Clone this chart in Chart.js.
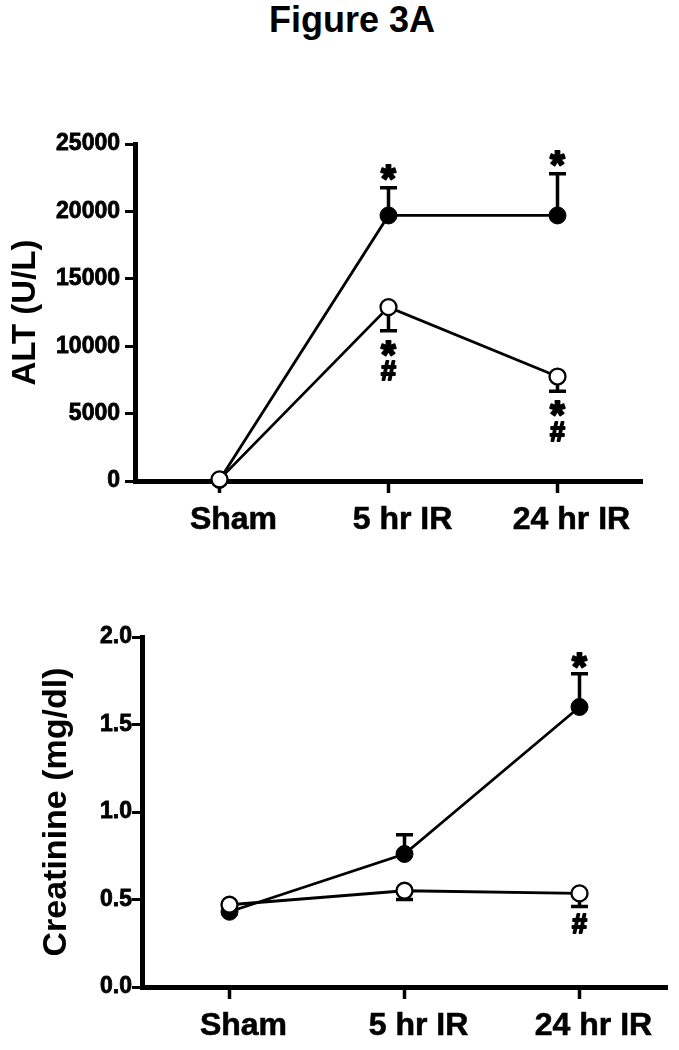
<!DOCTYPE html>
<html><head><meta charset="utf-8">
<script src="https://cdn.jsdelivr.net/npm/chart.js@4/dist/chart.umd.min.js"></script>
<style>
html,body{margin:0;padding:0;background:#fff;width:679px;height:1050px;overflow:hidden;position:relative;}
#title{position:absolute;left:0;width:704px;top:2px;text-align:center;font:bold 36px "Liberation Sans",Arial,sans-serif;line-height:36px;color:#000;}
.wrap{position:absolute;left:0;width:679px;}
canvas{display:block;}
</style></head><body>
<div id="title">Figure 3A</div>
<div class="wrap" style="top:100px;height:450px"><canvas id="c1" width="679" height="450"></canvas></div>
<div class="wrap" style="top:580px;height:470px"><canvas id="c2" width="679" height="470"></canvas></div>
<script>
const FONT = '"Liberation Sans", Arial, sans-serif';

const categories = ['Sham', '5 hr IR', '24 hr IR'];

const altFilled = [80, 19700, 19700];
const altFilledErr = [0, 2050, 3100];
const altOpen = [120, 12900, 7750];
const altOpenErr = [0, 1750, 1100];
const altFilledMarks = [[], ['*'], ['*']];
const altOpenMarks = [[], ['*', '#'], ['*', '#']];
const altTicks = [0, 5000, 10000, 15000, 20000, 25000];

const creatFilled = [0.43, 0.76, 1.60];
const creatFilledErr = [0, 0.11, 0.19];
const creatOpen = [0.47, 0.55, 0.535];
const creatOpenErr = [0, 0.05, 0.075];
const creatFilledMarks = [[], [], ['*']];
const creatOpenMarks = [[], [], ['#']];
const creatTicks = [0, 0.5, 1.0, 1.5, 2.0];

const errPlugin = {
  id: 'errbars',
  beforeDatasetsDraw(chart) {
    const ctx = chart.ctx, ys = chart.scales.y;
    chart.data.datasets.forEach((ds, di) => {
      const meta = chart.getDatasetMeta(di);
      ds.data.forEach((v, i) => {
        const e = ds.err[i];
        if (!e) return;
        const px = meta.data[i].x;
        const y0 = ys.getPixelForValue(v);
        const y1 = ys.getPixelForValue(v + ds.errDir * e);
        ctx.save();
        ctx.strokeStyle = '#000';
        ctx.lineWidth = 3.5;
        ctx.beginPath();
        ctx.moveTo(px, y0); ctx.lineTo(px, y1);
        ctx.moveTo(px - 8.5, y1); ctx.lineTo(px + 8.5, y1);
        ctx.stroke();
        ctx.restore();
      });
    });
  }
};

const markPlugin = {
  id: 'marks',
  afterDatasetsDraw(chart, args, opts) {
    const ctx = chart.ctx, ys = chart.scales.y;
    chart.data.datasets.forEach((ds, di) => {
      const meta = chart.getDatasetMeta(di);
      ds.data.forEach((v, i) => {
        const list = ds.marks[i];
        if (!list || !list.length) return;
        const px = meta.data[i].x;
        const yEnd = ys.getPixelForValue(v + ds.errDir * (ds.err[i] || 0));
        list.forEach((m, k) => {
          const fs = m === '*' ? 38 : 27;
          ctx.save();
          ctx.font = 'bold ' + fs + 'px ' + FONT;
          ctx.fillStyle = '#000';
          ctx.strokeStyle = '#000';
          ctx.lineWidth = m === '*' ? 2 : 1.8;
          ctx.lineJoin = 'round';
          ctx.textAlign = 'center';
          ctx.textBaseline = 'alphabetic';
          const mt = ctx.measureText(m);
          const asc = mt.actualBoundingBoxAscent, desc = mt.actualBoundingBoxDescent;
          const gap = ds.errDir > 0 ? opts.gapAbove : opts.gapBelow;
          const cy = yEnd - ds.errDir * (gap + k * opts.step);
          const ty = cy + (asc - desc) / 2;
          ctx.fillText(m, px, ty);
          ctx.strokeText(m, px, ty);
          ctx.restore();
        });
      });
    });
  }
};

function makeChart(id, o) {
  return new Chart(document.getElementById(id), {
    type: 'line',
    data: {
      labels: categories,
      datasets: [
        { label: 'open', data: o.open, err: o.openErr, errDir: -1, marks: o.openMarks,
          borderColor: '#000', borderWidth: 2.8, pointRadius: 8, pointBackgroundColor: '#fff',
          pointBorderColor: '#000', pointBorderWidth: 2.3, tension: 0, clip: false },
        { label: 'filled', data: o.filled, err: o.filledErr, errDir: 1, marks: o.filledMarks,
          borderColor: '#000', borderWidth: 2.8, pointRadius: 8.5, pointBackgroundColor: '#000',
          pointBorderColor: '#000', pointBorderWidth: 1, tension: 0, clip: false }
      ]
    },
    options: {
      responsive: false, animation: false, devicePixelRatio: 1, events: [],
      layout: { padding: { top: o.padTop, right: o.padRight, left: 0, bottom: 0 } },
      plugins: { legend: { display: false }, tooltip: { enabled: false },
        marks: { gapAbove: o.gapAbove, gapBelow: o.gapBelow, step: 22.5 } },
      scales: {
        x: {
          type: 'category', offset: true,
          grid: { display: true, drawOnChartArea: false, drawTicks: true, tickLength: 12, tickWidth: 3.5, tickColor: '#000' },
          border: { display: true, color: '#000', width: 5 },
          ticks: { color: '#000', font: { family: FONT, weight: 'bold', size: 32 }, padding: o.xPad,
                   labelOffset: 14, maxRotation: 0, autoSkip: false,
                   textStrokeColor: '#000', textStrokeWidth: 0.6 },
          afterFit: s => { s.height = o.xHeight; }
        },
        y: {
          min: o.min, max: o.max,
          grid: { display: true, drawOnChartArea: false, drawTicks: true, tickLength: 10, tickWidth: 3, tickColor: '#000' },
          border: { display: true, color: '#000', width: 5 },
          ticks: { color: '#000', font: { family: FONT, weight: 'bold', size: 23 }, padding: o.yPad,
                   callback: o.fmt, textStrokeColor: '#000', textStrokeWidth: 0.8 },
          afterBuildTicks: s => { s.ticks = o.ticks.map(v => ({ value: v })); },
          title: { display: true, text: o.yTitle, color: '#000',
                   font: { family: FONT, weight: 'bold', size: o.titleSize }, padding: { top: o.titlePad, bottom: 0 } },
          afterFit: s => { s.width = o.yWidth; }
        }
      }
    },
    plugins: [errPlugin, markPlugin]
  });
}

makeChart('c1', {
  open: altOpen, openErr: altOpenErr, openMarks: altOpenMarks,
  filled: altFilled, filledErr: altFilledErr, filledMarks: altFilledMarks,
  ticks: altTicks, min: 0, max: 25000, fmt: v => String(v), yTitle: 'ALT (U/L)',
  padTop: 44, padRight: 37, xHeight: 69, yWidth: 135, xPad: 8, yPad: 5, titlePad: 6, titleSize: 33,
  gapAbove: 15, gapBelow: 17.5
});

makeChart('c2', {
  open: creatOpen, openErr: creatOpenErr, openMarks: creatOpenMarks,
  filled: creatFilled, filledErr: creatFilledErr, filledMarks: creatFilledMarks,
  ticks: creatTicks, min: 0, max: 2.0, fmt: v => Number(v).toFixed(1), yTitle: 'Creatinine (mg/dl)',
  padTop: 57, padRight: 12, xHeight: 63, yWidth: 142, xPad: 8, yPad: 0, titlePad: 36, titleSize: 34,
  gapAbove: 13, gapBelow: 17
});
</script>
</body></html>
